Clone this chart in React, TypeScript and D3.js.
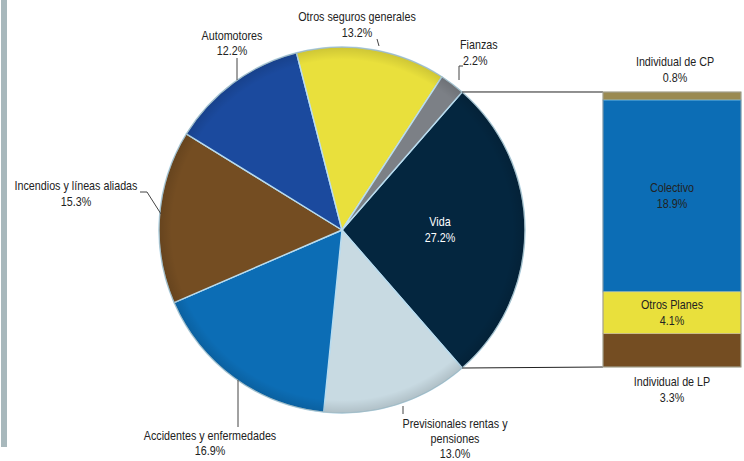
import React from "react";
import * as d3 from "d3";

const pieLabels = ["Vida", "Previsionales rentas y pensiones", "Accidentes y enfermedades", "Incendios y líneas aliadas", "Automotores", "Otros seguros generales", "Fianzas"];
const pieValues = [27.2, 13.0, 16.9, 15.3, 12.2, 13.2, 2.2];
const pieColors = ["#04263f", "#c8dae2", "#0c6db5", "#744d22", "#1b4a9e", "#e9e03c", "#7c8086"];

const barLabels = ["Individual de CP", "Colectivo", "Otros Planes", "Individual de LP"];
const barValues = [0.8, 18.9, 4.1, 3.3];
const barColors = ["#9a8a52", "#0c6db5", "#e9e03c", "#744d22"];

const W = 744, H = 461;
const cx = 342, cy = 230, R = 183;
const FONT = "'Liberation Sans', Arial, sans-serif";

function T({ x, y, children, anchor = "middle", fill = "#222" }: { x: number; y: number; children: React.ReactNode; anchor?: string; fill?: string }) {
  return (
    <text transform={`translate(${x},${y}) scale(0.86,1)`} textAnchor={anchor as any} fontFamily={FONT} fontSize={12.5} fill={fill}>
      {children}
    </text>
  );
}

export default function App() {
  const total = d3.sum(pieValues);
  const vidaAngle = (pieValues[0] / total) * 2 * Math.PI;
  const start = Math.PI / 2 - vidaAngle / 2;
  const pie = d3.pie<number>().sort(null).value((d) => d).startAngle(start).endAngle(start + 2 * Math.PI);
  const arcs = pie(pieValues);
  const arcGen = d3.arc<d3.PieArcDatum<number>>().innerRadius(0).outerRadius(R);
  const pt = (a: number, r: number) => [cx + r * Math.sin(a), cy - r * Math.cos(a)];

  const barX = 603, barW = 138, barTop = 92, barBottom = 367;
  const bTotal = d3.sum(barValues);
  const y = d3.scaleLinear().domain([0, bTotal]).range([barTop, barBottom]);
  const cum = barValues.map((_, i) => d3.sum(barValues.slice(0, i)));

  const vStart = pt(arcs[0].startAngle, R);
  const vEnd = pt(arcs[0].endAngle, R);

  return (
    <svg width={W} height={H} style={{ position: "absolute", left: 0, top: 0 }}>
      <defs>
        <radialGradient id="rim" cx={cx} cy={cy} r={R} gradientUnits="userSpaceOnUse">
          <stop offset="0.93" stopColor="#000" stopOpacity={0} />
          <stop offset="1" stopColor="#000" stopOpacity={0.12} />
        </radialGradient>
      </defs>
      <rect x={0} y={0} width={W} height={H} fill="#fff" />
      <rect x={1} y={0} width={6} height={447} fill="#a8b8bc" />
      <g transform={`translate(${cx},${cy})`}>
        {arcs.map((a, i) => (
          <path key={i} d={arcGen(a) || ""} fill={pieColors[i]} stroke="#b9dcef" strokeWidth={1.4} strokeLinejoin="round" />
        ))}
      </g>
      <circle cx={cx} cy={cy} r={R} fill="url(#rim)" />
      <circle cx={cx} cy={cy} r={R} fill="none" stroke="#9aa" strokeOpacity={0.5} strokeWidth={1} />
      {/* connectors */}
      <line x1={vStart[0]} y1={vStart[1]} x2={barX} y2={y(0)} stroke="#222" strokeWidth={1} />
      <line x1={vEnd[0]} y1={vEnd[1]} x2={barX} y2={y(bTotal)} stroke="#222" strokeWidth={1} />
      {/* bar */}
      {barValues.map((v, i) => (
        <rect key={i} x={barX} y={y(cum[i])} width={barW} height={y(cum[i] + v) - y(cum[i])} fill={barColors[i]}
          stroke={i === 1 ? "#5ab0e8" : "#d8cf9a"} strokeOpacity={0.7} strokeWidth={1} />
      ))}
      <rect x={barX} y={barTop} width={barW} height={barBottom - barTop} fill="none" stroke="#888" strokeWidth={0.8} />
      {/* pie labels */}
      <T x={440} y={226} fill="#fff">{pieLabels[0]}</T>
      <T x={440} y={242} fill="#fff">{pieValues[0].toFixed(1)}%</T>

      <T x={232} y={40}>{pieLabels[4]}</T>
      <T x={232} y={55}>{pieValues[4].toFixed(1)}%</T>
      <line x1={237} y1={58} x2={237} y2={80} stroke="#444" />

      <T x={357} y={21}>{pieLabels[5]}</T>
      <T x={357} y={37}>{pieValues[5].toFixed(1)}%</T>
      <line x1={377} y1={39} x2={379} y2={46} stroke="#444" />

      <T x={460} y={49} anchor="start">{pieLabels[6]}</T>
      <T x={463} y={65} anchor="start">{pieValues[6].toFixed(1)}%</T>
      <polyline points="463,66 459,66 459,80" fill="none" stroke="#444" />

      <T x={76} y={190}>{pieLabels[3]}</T>
      <T x={76} y={206}>{pieValues[3].toFixed(1)}%</T>
      <polyline points="140,192 147,192 161,214" fill="none" stroke="#444" />

      <T x={210} y={440}>{pieLabels[2]}</T>
      <T x={210} y={455}>{pieValues[2].toFixed(1)}%</T>
      <line x1={238} y1={380} x2={238} y2={427} stroke="#444" />

      <T x={455} y={428}>Previsionales rentas y</T>
      <T x={455} y={443}>pensiones</T>
      <T x={455} y={458}>{pieValues[1].toFixed(1)}%</T>
      <line x1={403} y1={406} x2={403} y2={414} stroke="#444" />

      {/* bar labels */}
      <T x={675} y={66}>{barLabels[0]}</T>
      <T x={675} y={82}>{barValues[0].toFixed(1)}%</T>
      <T x={672} y={192}>{barLabels[1]}</T>
      <T x={672} y={208}>{barValues[1].toFixed(1)}%</T>
      <T x={672} y={309}>{barLabels[2]}</T>
      <T x={672} y={325}>{barValues[2].toFixed(1)}%</T>
      <T x={672} y={386}>{barLabels[3]}</T>
      <T x={672} y={402}>{barValues[3].toFixed(1)}%</T>
    </svg>
  );
}
